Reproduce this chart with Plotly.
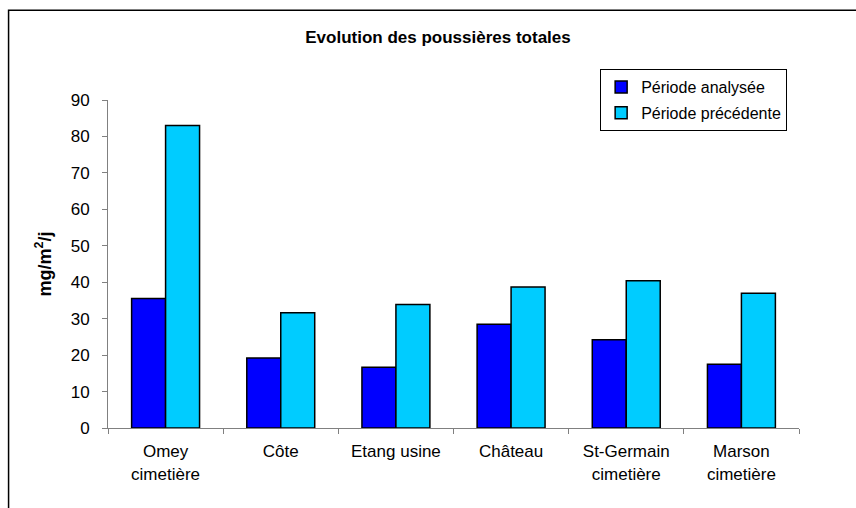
import plotly.graph_objects as go

categories = ["Omey<br>cimetière", "Côte", "Etang usine", "Château", "St-Germain<br>cimetière", "Marson<br>cimetière"]
periode_analysee = [35.5, 19.2, 16.7, 28.5, 24.2, 17.5]
periode_precedente = [83.0, 31.6, 33.9, 38.7, 40.4, 37.0]
y_ticks = [0, 10, 20, 30, 40, 50, 60, 70, 80, 90]

FONT = "Liberation Sans, Arial, sans-serif"

fig = go.Figure()
fig.add_trace(go.Bar(
    x=categories, y=periode_analysee, name="Période analysée",
    marker=dict(color="#0000FF", line=dict(color="#000000", width=1.5)),
    legendgroup="a",
))
fig.add_trace(go.Bar(
    x=categories, y=periode_precedente, name="Période précédente",
    marker=dict(color="#00CCFF", line=dict(color="#000000", width=1.5)),
    legendgroup="b",
))

L, R, T, B = 107.5, 57, 100, 79.5
W, H = 856, 508
pw = W - L - R
ph = H - T - B

fig.update_layout(
    width=W, height=H,
    margin=dict(l=L, r=R, t=T, b=B, pad=0),
    paper_bgcolor="white", plot_bgcolor="white",
    font=dict(family=FONT, size=17, color="#000000"),
    barmode="group", bargap=0.41, bargroupgap=0,
    title=dict(text="<b>Evolution des poussières totales</b>", x=438 / W, xanchor="center",
               y=1 - 37 / H, yanchor="middle", font=dict(size=17, family=FONT)),
    showlegend=True,
    legend=dict(
        x=(600 - L) / pw, y=1 + (T - 69) / ph, xanchor="left", yanchor="top",
        bordercolor="#000000", borderwidth=1, bgcolor="white",
        font=dict(size=16, family=FONT), traceorder="grouped", tracegroupgap=2,
    ),
    xaxis=dict(
        type="category", showline=True, linecolor="#808080", linewidth=1,
        ticks="outside", ticklen=5, tickcolor="#808080", tickson="boundaries",
        showgrid=False, tickfont=dict(size=17, family=FONT), ticklabelstandoff=8,
    ),
    yaxis=dict(
        range=[0, 90], tickvals=y_ticks, showline=True, linecolor="#808080", linewidth=1,
        ticks="outside", ticklen=5, tickcolor="#808080", showgrid=False, zeroline=False,
        tickfont=dict(size=17, family=FONT), ticklabelstandoff=9,
        title=dict(text="<b>mg/m<sup>2</sup>/j</b>", font=dict(size=18, family=FONT), standoff=14),
    ),
    shapes=[dict(
        type="rect", xref="paper", yref="paper",
        x0=(8 - L) / pw, x1=(W + 20 - L) / pw,
        y0=-(B + 20) / ph, y1=1 + (T - 10) / ph,
        line=dict(color="#000000", width=1.5), fillcolor="rgba(0,0,0,0)", layer="below",
    )],
)

fig.write_html("out.html", config={"displayModeBar": False},
               post_script="document.body.style.margin='0';document.body.style.overflow='hidden';")
